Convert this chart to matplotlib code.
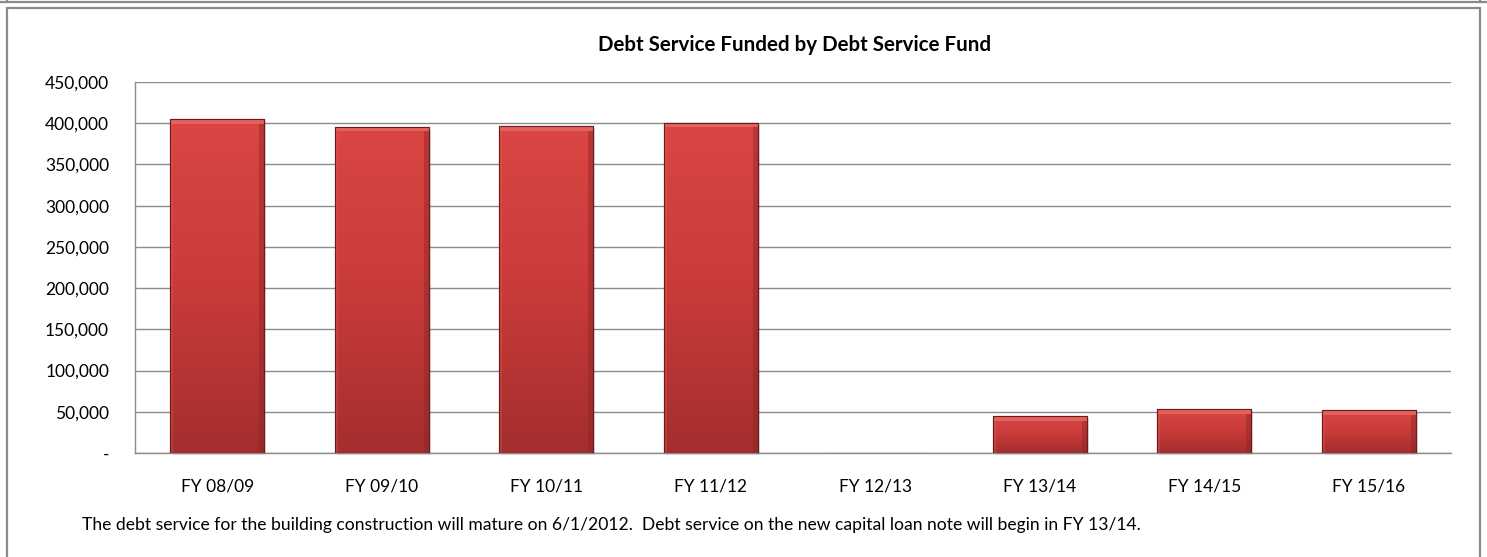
import numpy as np
import matplotlib.pyplot as plt
from matplotlib.patches import Rectangle
from matplotlib.lines import Line2D
from matplotlib.ticker import FuncFormatter

# Debt service by fiscal year
years = ["FY 08/09", "FY 09/10", "FY 10/11", "FY 11/12",
         "FY 12/13", "FY 13/14", "FY 14/15", "FY 15/16"]
debt_service = [405000, 395500, 396500, 400500, 0, 44500, 53000, 52000]

plt.rcParams["font.family"] = ["Lato", "DejaVu Sans"]

W, H = 1487, 557
fig = plt.figure(figsize=(W / 100, H / 100), dpi=100)
ax = fig.add_axes([135 / W, 1 - 453 / H, (1451 - 135) / W, (453 - 82) / H])

x = np.arange(len(years))
bars = ax.bar(x, debt_service, width=0.57, color="#c83a38",
              edgecolor="#7a1c1c", linewidth=0.8, zorder=3)

# vertical shading on each bar
grad = np.linspace(0, 1, 256).reshape(-1, 1)
cmap = plt.matplotlib.colors.LinearSegmentedColormap.from_list(
    "redbar", ["#a32e2e", "#c93b39", "#da4644"])
for b in bars:
    h = b.get_height()
    if h <= 0:
        continue
    x0 = b.get_x()
    w = b.get_width()
    # soft shadow under the bar
    ax.add_patch(Rectangle((x0 + w * 0.02, -2500), w, h, color="#000000",
                           alpha=0.12, zorder=2, lw=0, clip_on=False))
    im = ax.imshow(grad, extent=[x0, x0 + w, 0, h], origin="lower",
                   cmap=cmap, aspect="auto", zorder=4)
    im.set_clip_path(b)
    # lighter bevel along the top, darker along the right side
    ax.add_patch(Rectangle((x0, h - 5500), w, 5500, color="#e2625e",
                           zorder=5, lw=0))
    ax.add_patch(Rectangle((x0 + w * 0.95, 0), w * 0.05, h - 5500,
                           color="#8c2525", alpha=0.45, zorder=5, lw=0))
    ax.add_patch(Rectangle((x0, 0), w * 0.03, h - 5500,
                           color="#e05a57", alpha=0.35, zorder=5, lw=0))
    ax.add_patch(Rectangle((x0, 0), w, h, fill=False, ec="#6e1a1a",
                           lw=0.8, zorder=6))

ax.set_xlim(-0.5, len(years) - 0.5)
ax.set_ylim(0, 450000)
ax.set_yticks(np.arange(0, 450001, 50000))
ax.yaxis.set_major_formatter(
    FuncFormatter(lambda v, p: "-" if v == 0 else f"{int(v):,}"))
ax.set_xticks(x)
ax.set_xticklabels(years)
ax.tick_params(axis="both", length=0, labelsize=12.5, colors="black")
ax.tick_params(axis="y", pad=18.7)
ax.tick_params(axis="x", pad=18)
ax.grid(axis="y", color="#8c8c8c", linewidth=1, zorder=0)
for s in ["top", "right"]:
    ax.spines[s].set_visible(False)
for s in ["left", "bottom"]:
    ax.spines[s].set_color("#8c8c8c")
    ax.spines[s].set_linewidth(1)

fig.text(795 / W, 1 - 45 / H, "Debt Service Funded by Debt Service Fund",
         ha="center", va="center", fontsize=14.8, fontweight="bold")
fig.text(82 / W, 1 - 525 / H,
         "The debt service for the building construction will mature on 6/1/2012.  "
         "Debt service on the new capital loan note will begin in FY 13/14.",
         ha="left", va="center", fontsize=12.6)

# outer frame
fig.add_artist(Rectangle((7 / W, -0.01), (1480 - 7) / W, 1 - 8 / H + 0.01,
                         transform=fig.transFigure, fill=False,
                         ec="#8a8a8a", lw=1.6))
fig.add_artist(Line2D([0, 1], [1 - 2 / H, 1 - 2 / H],
                      transform=fig.transFigure, color="#8a8a8a", lw=1.6))
fig.add_artist(Line2D([7 / W, 7 / W], [1 - 2 / H, 1],
                      transform=fig.transFigure, color="#8a8a8a", lw=1.6))
fig.add_artist(Line2D([1480 / W, 1480 / W], [1 - 2 / H, 1],
                      transform=fig.transFigure, color="#8a8a8a", lw=1.6))

fig.savefig("out.png", dpi=100)
